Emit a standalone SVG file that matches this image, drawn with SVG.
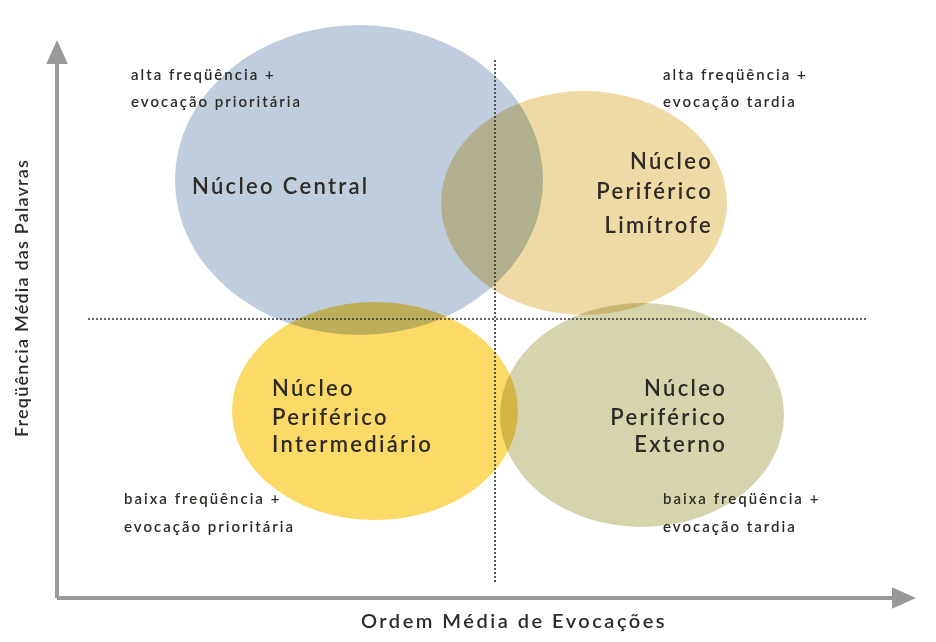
<svg xmlns="http://www.w3.org/2000/svg" width="936" height="642" viewBox="0 0 936 642">
<style>
.t{font-family:Lato,"Liberation Sans",sans-serif;fill:#2e2a26}
.s{font-size:15px;font-weight:600;letter-spacing:2px}
.n{font-size:22px;font-weight:600;letter-spacing:2.3px}
.ax{font-size:20px;font-weight:600;letter-spacing:2.5px}
.ay{font-size:18px;font-weight:600;letter-spacing:1.2px}
.ell{mix-blend-mode:multiply}
.dot{stroke:#333;stroke-width:1.6;stroke-dasharray:2 2;fill:none}
.axis{stroke:#999;stroke-width:4;fill:none}
</style>
<defs>
<marker id="ah" markerWidth="6" markerHeight="6" refX="1" refY="3" orient="auto" markerUnits="strokeWidth">
<path d="M0,0.3 L6,3 L0,5.7 z" fill="#999"/>
</marker>
</defs>
<rect width="936" height="642" fill="#fff"/>
<g id="nodes">
<g id="nucleo-central">
<ellipse class="ell" cx="359" cy="180" rx="184" ry="155" fill="#bfcddc"/>
</g>
<g id="nucleo-limitrofe">
<ellipse class="ell" cx="584" cy="203" rx="143" ry="112" fill="#eedaa5"/>
</g>
<g id="nucleo-intermediario">
<ellipse class="ell" cx="375" cy="411" rx="143" ry="109" fill="#fcda68"/>
</g>
<g id="nucleo-externo">
<ellipse class="ell" cx="642" cy="415" rx="142" ry="112" fill="#d6d4ad"/>
</g>
</g>
<g id="connectors">
<line class="dot" x1="88" y1="319" x2="866" y2="319"/>
<line class="dot" x1="495" y1="60" x2="495" y2="582"/>
<path class="axis" d="M57,598 V60" marker-end="url(#ah)"/>
<path class="axis" d="M57,598 H896" marker-end="url(#ah)"/>
</g>
<g id="labels">
<text class="t n" x="192" y="194">Núcleo Central</text>
<text class="t n" text-anchor="end"><tspan x="713" y="169">Núcleo</tspan><tspan x="713" y="199">Periférico</tspan><tspan x="713" y="233">Limítrofe</tspan></text>
<text class="t n"><tspan x="272" y="396">Núcleo</tspan><tspan x="272" y="425">Periférico</tspan><tspan x="272" y="452">Intermediário</tspan></text>
<text class="t n" text-anchor="end"><tspan x="727" y="396">Núcleo</tspan><tspan x="727" y="425">Periférico</tspan><tspan x="727" y="452">Externo</tspan></text>
<text class="t s"><tspan x="131" y="80">alta freqüência  +</tspan><tspan x="131" y="107">evocação prioritária</tspan></text>
<text class="t s"><tspan x="663" y="80">alta freqüência  +</tspan><tspan x="663" y="107">evocação tardia</tspan></text>
<text class="t s"><tspan x="124" y="504">baixa freqüência  +</tspan><tspan x="124" y="532">evocação prioritária</tspan></text>
<text class="t s"><tspan x="663" y="504">baixa freqüência  +</tspan><tspan x="663" y="532">evocação tardia</tspan></text>
<text class="t ax" x="514" y="628" text-anchor="middle">Ordem Média de Evocações</text>
<text class="t ay" transform="translate(28,298) rotate(-90)" text-anchor="middle">Freqüência Média das Palavras</text>
</g>
</svg>
